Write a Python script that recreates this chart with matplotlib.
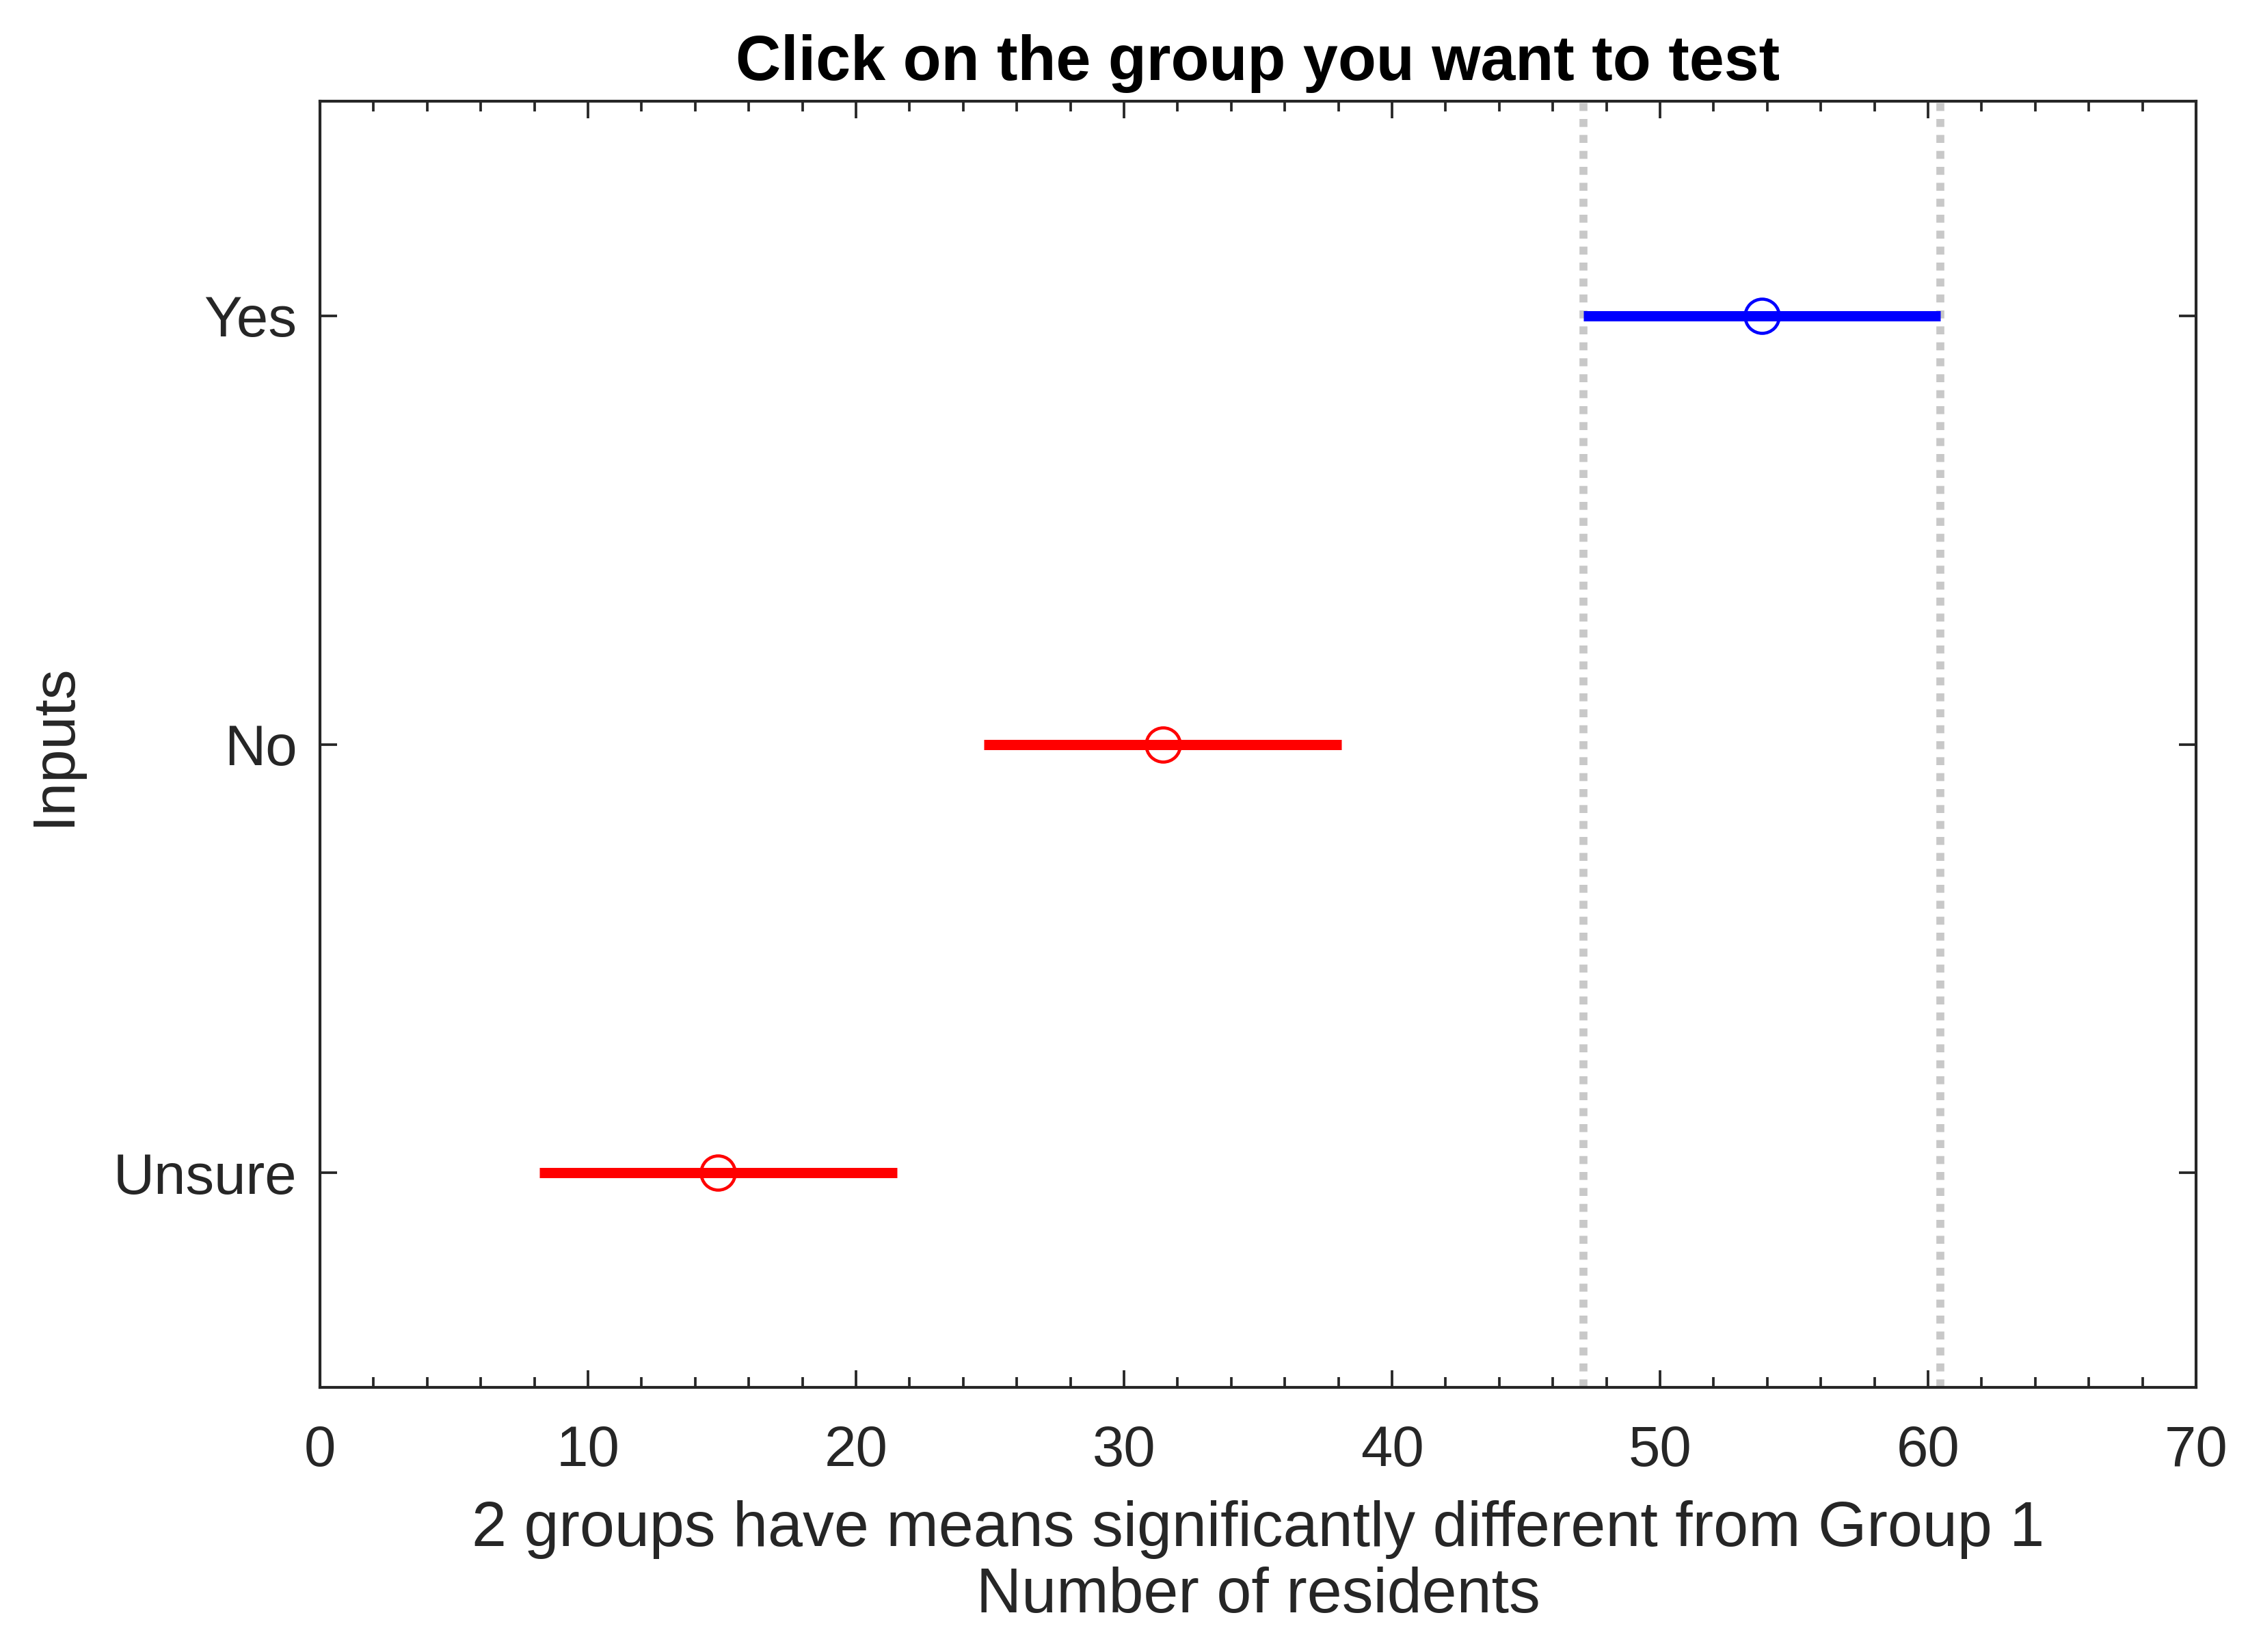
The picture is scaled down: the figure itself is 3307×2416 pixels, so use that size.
import matplotlib
matplotlib.use("Agg")
import matplotlib.pyplot as plt
from matplotlib.ticker import MultipleLocator

groups = ["Unsure", "No", "Yes"]
means = [14.85, 31.45, 53.8]
half_widths = [6.67, 6.67, 6.67]
colors = ["#ff0000", "#ff0000", "#0000ff"]
selected = 2

plt.rcParams['font.family'] = ['Liberation Sans', 'DejaVu Sans']

fig = plt.figure(figsize=(3307/300, 2416/300), dpi=300)
ax = fig.add_axes([0.1415, 0.1602, 0.8298, 0.7785])

ypos = [1, 2, 3]
for y, m, h, c in zip(ypos, means, half_widths, colors):
    ax.plot([m - h, m + h], [y, y], color=c, lw=3.6, solid_capstyle='butt', zorder=3)
    ax.plot([m], [y], marker='o', ms=12, mfc='none', mec=c, mew=1.1, zorder=4)

lo = means[selected] - half_widths[selected]
hi = means[selected] + half_widths[selected]
for xv in (lo, hi):
    ax.axvline(xv, color='#c8c8c8', lw=2.8, linestyle=(0, (1.0, 1.0)), zorder=2)

ax.set_xlim(0, 70)
ax.set_ylim(0.5, 3.5)
ax.set_yticks(ypos)
ax.set_yticklabels(groups)
ax.xaxis.set_major_locator(MultipleLocator(10))
ax.xaxis.set_minor_locator(MultipleLocator(2))

for s in ax.spines.values():
    s.set_color('#262626')
    s.set_linewidth(1.0)

ax.tick_params(which='both', direction='in', top=True, right=True, colors='#262626',
               labelcolor='#262626', labelsize=20, width=0.9)
ax.tick_params(which='major', length=6)
ax.tick_params(which='minor', length=3.5)
ax.tick_params(axis='x', pad=13)
ax.tick_params(axis='y', pad=8)

ax.set_title("Click on the group you want to test", fontsize=22, fontweight='bold', pad=7.5)
ax.set_xlabel("2 groups have means significantly different from Group 1\nNumber of residents",
              fontsize=22, color='#262626', labelpad=8, linespacing=1.15)
ax.set_ylabel("Inputs", fontsize=21, color='#262626')
ax.yaxis.set_label_coords(-0.127, 0.5)

fig.savefig("out.png", dpi=300)
